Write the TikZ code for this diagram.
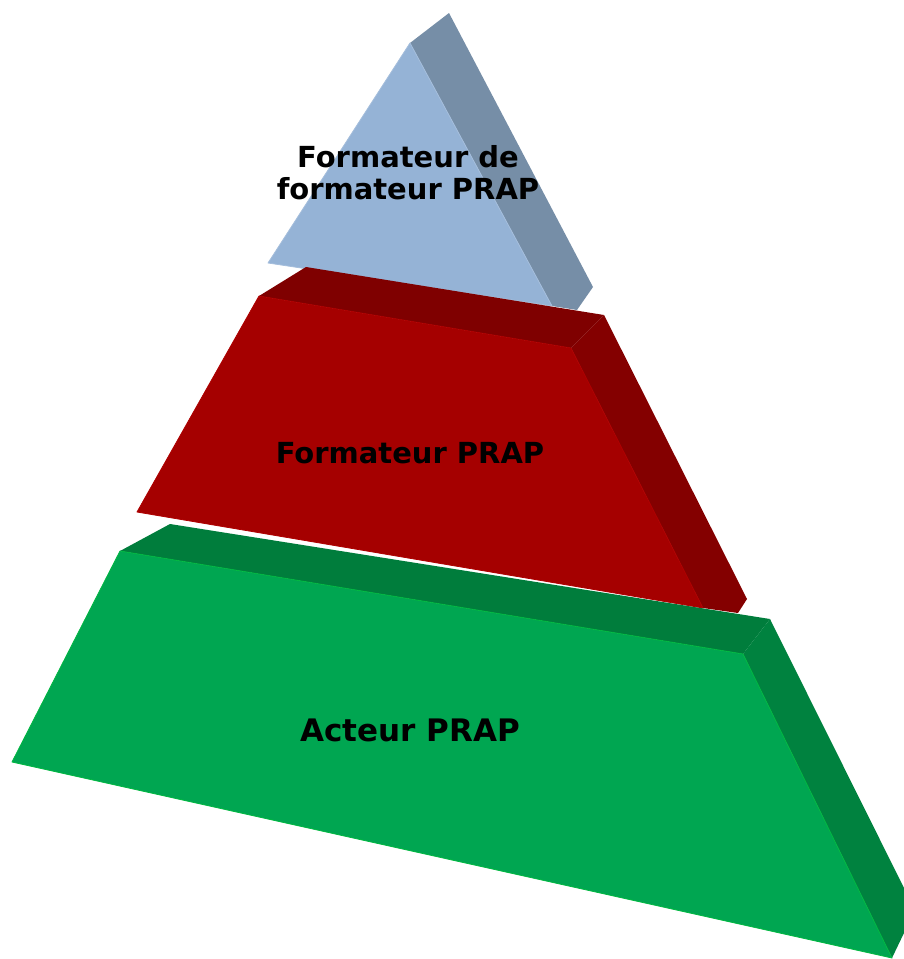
\documentclass[tikz,border=0pt]{standalone}
\usepackage{fontspec}
\setmainfont{DejaVu Sans}
\usetikzlibrary{positioning}
\definecolor{tipfront}{HTML}{95B3D6}
\definecolor{tipside}{HTML}{768EA7}
\definecolor{midfront}{HTML}{A50000}
\definecolor{midtop}{HTML}{7F0000}
\definecolor{midside}{HTML}{840000}
\definecolor{basefront}{HTML}{00A651}
\definecolor{basetop}{HTML}{007D3C}
\definecolor{baseside}{HTML}{00823F}
\tikzset{
  face/.style={line join=round, line width=0.8pt},
  label/.style={font=\fontsize{29}{32}\selectfont\bfseries, align=center, text=black}
}

\begin{document}
\begin{tikzpicture}[x=1pt, y=-1pt]
  \useasboundingbox (0,0) rectangle (904,959);
  \clip (0,0) rectangle (904,959);
  % top layer
  \fill[tipside] (410,43) -- (449,13) -- (593,287) -- (577,310) -- (552,306) -- cycle;
  \filldraw[face, fill=tipfront, draw=tipfront!85!white] (410,43) -- (268,263) -- (552,306) -- cycle;
  % middle layer
  \fill[midtop] (259,296) -- (306,267) -- (604,315) -- (571,348) -- cycle;
  \fill[midside] (571,348) -- (604,315) -- (747,599) -- (738,613) -- (703,608) -- cycle;
  \filldraw[face, fill=midfront, draw=midfront!90!red] (259,296) -- (571,348) -- (703,608) -- (137,512) -- cycle;
  % bottom layer
  \fill[basetop] (120,551) -- (170,524) -- (770,619) -- (743,654) -- cycle;
  \fill[baseside] (743,654) -- (770,619) -- (915,910) -- (892,958) -- cycle;
  \filldraw[face, fill=basefront, draw=basefront!80!green] (120,551) -- (743,654) -- (892,958) -- (12,762) -- cycle;
  % labels
  \node[label] (tip) at (408,173) {Formateur de\\formateur PRAP};
  \node[label] (mid) at (410,453) {Formateur PRAP};
  \node[label, font=\fontsize{31}{34}\selectfont\bfseries] (base) at (410,730) {Acteur PRAP};
\end{tikzpicture}
\end{document}
